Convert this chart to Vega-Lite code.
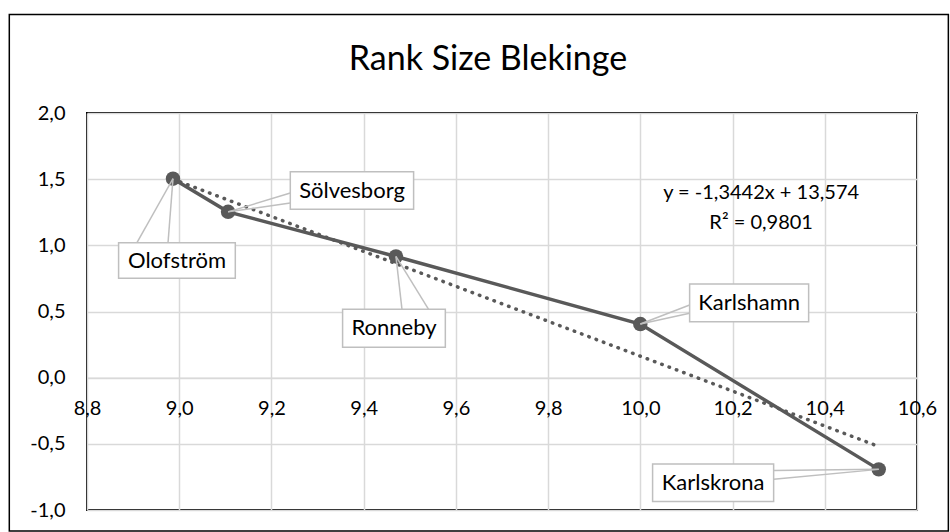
{
  "$schema": "https://vega.github.io/schema/vega-lite/v6.json",
  "width": 830,
  "height": 397,
  "autosize": {"type": "none"},
  "padding": {"left": 87, "top": 113, "right": 33, "bottom": 22},
  "background": "white",
  "title": {"text": "Rank Size Blekinge", "font": "Lato", "fontSize": 34, "fontWeight": "normal", "color": "#000000", "anchor": "middle", "dx": -14, "offset": -90, "baseline": "alphabetic"},
  "config": {
    "locale": {"number": {"decimal": ",", "thousands": " ", "grouping": [3], "currency": ["", ""], "minus": "-"}},
    "view": {"stroke": "#000000", "strokeWidth": 2},
    "font": "Lato"
  },
  "datasets": {
    "cities": [
      {"name": "Olofström", "x": 8.9865, "y": 1.504, "bx1": 8.8685, "bx2": 9.1216, "by1": 1.0196, "by2": 0.7508, "tx": 8.9952, "ty": 0.8852, "w1x": 8.9084, "w1y": 1.0196, "w2x": 8.9757, "w2y": 1.0196},
      {"name": "Sölvesborg", "x": 9.106, "y": 1.253, "bx1": 9.2409, "bx2": 9.5083, "by1": 1.5559, "by2": 1.2719, "tx": 9.3747, "ty": 1.4139, "w1x": 9.2409, "w1y": 1.395, "w2x": 9.2409, "w2y": 1.3195},
      {"name": "Ronneby", "x": 9.47, "y": 0.916, "bx1": 9.3543, "bx2": 9.5771, "by1": 0.5166, "by2": 0.2296, "tx": 9.4658, "ty": 0.3731, "w1x": 9.4831, "w1y": 0.5166, "w2x": 9.5408, "w2y": 0.5166},
      {"name": "Karlshamn", "x": 10.0, "y": 0.405, "bx1": 10.1069, "bx2": 10.365, "by1": 0.7077, "by2": 0.423, "tx": 10.236, "ty": 0.5657, "w1x": 10.1069, "w1y": 0.5491, "w2x": 10.1069, "w2y": 0.4864},
      {"name": "Karlskrona", "x": 10.517, "y": -0.693, "bx1": 10.0266, "bx2": 10.2891, "by1": -0.6518, "by2": -0.9366, "tx": 10.1578, "ty": -0.7938, "w1x": 10.2891, "w1y": -0.7024, "w2x": 10.2891, "w2y": -0.7674}
    ],
    "trend": [
      {"x": 8.9865, "y": 1.5},
      {"x": 10.517, "y": -0.52}
    ],
    "eq": [
      {"x": 10.262, "y": 1.393, "t": "y = -1,3442x + 13,574"},
      {"x": 10.262, "y": 1.171, "t": "R² = 0,9801"}
    ]
  },
  "layer": [
    {
      "data": {"name": "trend"},
      "mark": {"type": "line", "color": "#595959", "strokeWidth": 3.5, "strokeDash": [0.5, 7.3], "strokeCap": "round"},
      "encoding": {
        "x": {"field": "x", "type": "quantitative", "title": null,
          "scale": {"domain": [8.8, 10.6], "nice": false, "zero": false},
          "axis": {"title": null, "values": [8.8, 9.0, 9.2, 9.4, 9.6, 9.8, 10.0, 10.2, 10.4, 10.6], "format": ".1f",
            "orient": "bottom", "offset": -132.3, "ticks": false, "domain": true, "domainColor": "#d9d9d9", "domainWidth": 1.5,
            "grid": true, "gridColor": "#d9d9d9", "gridWidth": 1.5, "labelFont": "Lato", "labelFontSize": 20, "labelColor": "#000000",
            "labelPadding": 21, "labelOverlap": false, "labelFlush": false}},
        "y": {"field": "y", "type": "quantitative", "title": null,
          "scale": {"domain": [-1, 2], "nice": false, "zero": false},
          "axis": {"title": null, "values": [-1, -0.5, 0, 0.5, 1, 1.5, 2], "format": ".1f",
            "ticks": false, "domain": false, "grid": true, "gridColor": "#d9d9d9", "gridWidth": 1.5,
            "labelFont": "Lato", "labelFontSize": 20, "labelColor": "#000000", "labelPadding": 22, "labelOverlap": false, "labelFlush": false}}
      }
    },
    {
      "data": {"name": "cities"},
      "mark": {"type": "line", "color": "#595959", "strokeWidth": 3.5},
      "encoding": {
        "x": {"field": "x", "type": "quantitative", "title": null},
        "y": {"field": "y", "type": "quantitative", "title": null}
      }
    },
    {
      "data": {"name": "cities"},
      "mark": {"type": "circle", "color": "#595959", "size": 210, "opacity": 1},
      "encoding": {
        "x": {"field": "x", "type": "quantitative", "title": null},
        "y": {"field": "y", "type": "quantitative", "title": null}
      }
    },
    {
      "data": {"name": "cities"},
      "mark": {"type": "rule", "color": "#bfbfbf", "strokeWidth": 1.5},
      "encoding": {
        "x": {"field": "x", "type": "quantitative", "title": null},
        "y": {"field": "y", "type": "quantitative", "title": null},
        "x2": {"field": "w1x"},
        "y2": {"field": "w1y"}
      }
    },
    {
      "data": {"name": "cities"},
      "mark": {"type": "rule", "color": "#bfbfbf", "strokeWidth": 1.5},
      "encoding": {
        "x": {"field": "x", "type": "quantitative", "title": null},
        "y": {"field": "y", "type": "quantitative", "title": null},
        "x2": {"field": "w2x"},
        "y2": {"field": "w2y"}
      }
    },
    {
      "data": {"name": "cities"},
      "mark": {"type": "rect", "fill": "#ffffff", "stroke": "#bfbfbf", "strokeWidth": 1.5},
      "encoding": {
        "x": {"field": "bx1", "type": "quantitative", "title": null},
        "x2": {"field": "bx2"},
        "y": {"field": "by1", "type": "quantitative", "title": null},
        "y2": {"field": "by2"}
      }
    },
    {
      "data": {"name": "cities"},
      "mark": {"type": "text", "font": "Lato", "fontSize": 22, "color": "#000000", "align": "center", "baseline": "middle"},
      "encoding": {
        "x": {"field": "tx", "type": "quantitative", "title": null},
        "y": {"field": "ty", "type": "quantitative", "title": null},
        "text": {"field": "name"}
      }
    },
    {
      "data": {"name": "eq"},
      "mark": {"type": "text", "font": "Lato", "fontSize": 20, "color": "#000000", "align": "center", "baseline": "middle"},
      "encoding": {
        "x": {"field": "x", "type": "quantitative", "title": null},
        "y": {"field": "y", "type": "quantitative", "title": null},
        "text": {"field": "t"}
      }
    },
    {
      "data": {"values": [{}]},
      "mark": {"type": "rect", "filled": false, "stroke": "#000000", "strokeWidth": 1.5, "clip": false},
      "encoding": {
        "x": {"datum": 8.6315, "type": "quantitative", "title": null},
        "x2": {"datum": 10.668},
        "y": {"datum": 2.745, "type": "quantitative", "title": null},
        "y2": {"datum": -1.1586}
      }
    }
  ]
}
